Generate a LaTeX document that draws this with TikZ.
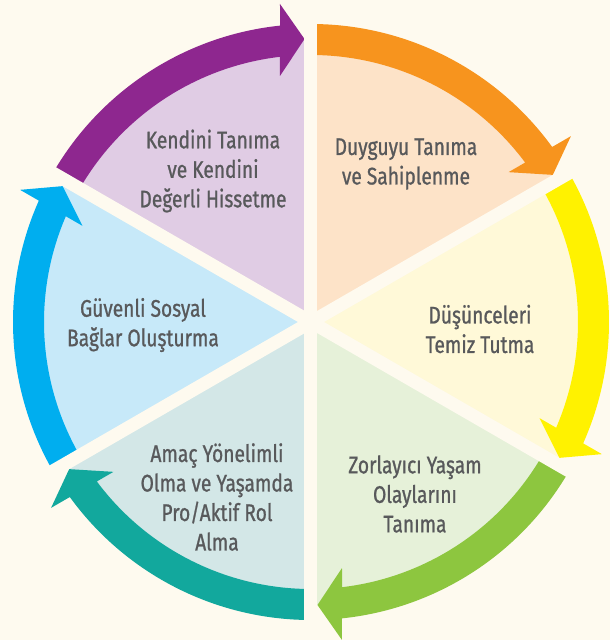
\documentclass[tikz,border=0pt]{standalone}
\usepackage{fontspec}
\setmainfont{Fira Sans}[FakeStretch=0.8, FakeBold=0.9]
\definecolor{zemin}{HTML}{FEFAEF}
\definecolor{yazi}{HTML}{58595B}
\definecolor{mor}{HTML}{8E278F}
\definecolor{morA}{HTML}{E0CCE4}
\definecolor{turuncu}{HTML}{F7941E}
\definecolor{turuncuA}{HTML}{FDE3C8}
\definecolor{sari}{HTML}{FFF200}
\definecolor{sariA}{HTML}{FFF9D8}
\definecolor{yesil}{HTML}{8DC63F}
\definecolor{yesilA}{HTML}{E6F1D9}
\definecolor{camgobegi}{HTML}{12A89D}
\definecolor{camgobegiA}{HTML}{D3E7E7}
\definecolor{mavi}{HTML}{00AEEF}
\definecolor{maviA}{HTML}{C7E9F9}

\begin{document}
\begin{tikzpicture}[x=1pt, y=1pt,
    etiket/.style={align=center, text=yazi, font=\fontsize{24}{29.5}\selectfont}]
    % dilimler ve oklar
    \def\Rw{283}
    \def\Ro{298}
    \def\Ri{267}
    \def\ara{13pt}
    \fill[zemin] (-311,-318) rectangle (299,322);
    \useasboundingbox (-311,-318) rectangle (299,322);
    \coordinate (O) at (0,0);

    \foreach \g/\koyu/\acik in {90/mor/morA, 30/turuncu/turuncuA, -30/sari/sariA,
                               -90/yesil/yesilA, -150/camgobegi/camgobegiA, 150/mavi/maviA}{
        \begin{scope}[rotate=\g-90]
            \fill[\acik] (O) -- (90:\Rw) arc[start angle=90, end angle=150, radius=\Rw] -- cycle;
            \fill[\koyu] (-6.5,283) -- (-31,318) -- (95.97:\Ro)
                arc[start angle=95.97, end angle=150, radius=\Ro] -- (150:\Ri)
                arc[start angle=150, end angle=96.67, radius=\Ri] -- (-31,246) -- cycle;
        \end{scope}
    };

    \foreach \a in {30, 90, ..., 330}{
        \draw[zemin, line width=\ara] (O) -- (\a:305);
    };

    \node[etiket] (kendini) at (-98, 151) {Kendini Tanıma\\ve Kendini\\Değerli Hissetme};
    \node[etiket] (duygu) at (95, 158) {Duyguyu Tanıma\\ve Sahiplenme};
    \node[etiket] (dusunce) at (169, -7) {Düşünceleri\\Temiz Tutma};
    \node[etiket] (bag) at (-168, -3) {Güvenli Sosyal\\Bağlar Oluşturma};
    \node[etiket] (olay) at (104, -172) {Zorlayıcı Yaşam\\Olaylarını\\Tanıma};
    \node[etiket] (amac) at (-94, -175) {Amaç Yönelimli\\Olma ve Yaşamda\\Pro/Aktif Rol\\Alma};
\end{tikzpicture}
\end{document}
